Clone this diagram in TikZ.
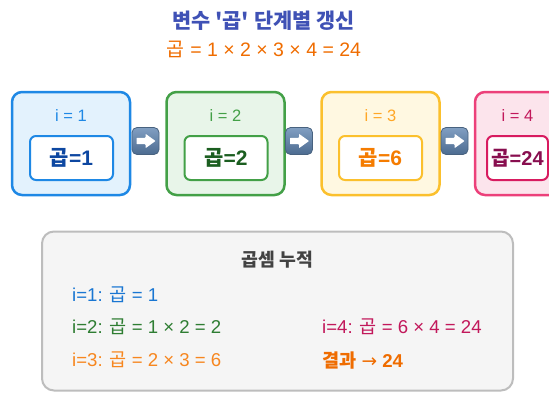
\documentclass[tikz,border=0pt]{standalone}
\usepackage{fontspec}
\setmainfont{Liberation Sans}
\newfontfamily\krfont{Noto Sans CJK KR}
\newfontfamily\arrowfont{DejaVu Sans}
\newcommand\kr[1]{{\krfont #1}}
\definecolor{ttl}{HTML}{3F51B5}
\definecolor{sub}{HTML}{EF6C00}
\definecolor{bA}{HTML}{1E88E5}\definecolor{fA}{HTML}{E3F2FD}\definecolor{tA}{HTML}{0D47A1}
\definecolor{bB}{HTML}{43A047}\definecolor{fB}{HTML}{E8F5E9}\definecolor{tB}{HTML}{1B5E20}
\definecolor{bC}{HTML}{FBC02D}\definecolor{fC}{HTML}{FFF8E1}\definecolor{tC}{HTML}{F57C00}\definecolor{lC}{HTML}{FFA726}
\definecolor{bD}{HTML}{EC407A}\definecolor{fD}{HTML}{FCE4EC}\definecolor{tD}{HTML}{880E4F}\definecolor{iD}{HTML}{D81B60}
\definecolor{lD}{HTML}{C2185B}
\definecolor{pf}{HTML}{F5F5F5}\definecolor{pb}{HTML}{BDBDBD}\definecolor{ph}{HTML}{424242}
\definecolor{l1}{HTML}{1976D2}\definecolor{l2}{HTML}{2E7D32}\definecolor{l3}{HTML}{F7861E}
\definecolor{ict}{HTML}{819FC2}\definecolor{icbot}{HTML}{4C6B90}\definecolor{icb}{HTML}{48627F}
\tikzset{
  outerbox/.style={draw, line width=2.5pt, rounded corners=10pt, minimum width=118pt, minimum height=103pt, inner sep=0pt},
  innerbox/.style={draw, fill=white, line width=2pt, rounded corners=6pt, minimum width=83pt, minimum height=44pt, inner sep=0pt},
  lab/.style={anchor=base, font=\fontsize{16.5}{19}\selectfont},
  val/.style={anchor=base, font=\fontsize{21}{25}\selectfont\bfseries},
  icon/.style={draw=icb, line width=0.8pt, rounded corners=5pt, top color=ict, bottom color=icbot, minimum size=27pt, inner sep=0pt},
  txtline/.style={anchor=base west, inner sep=0pt, font=\fontsize{18.6}{22}\selectfont},
}
\begin{document}
\begin{tikzpicture}[x=1pt,y=-1pt]
\useasboundingbox (0,0) rectangle (549,392);
% titles
\node[anchor=base, text=ttl, font=\fontsize{20.8}{25}\selectfont\bfseries] (title) at (263.5,28) {\kr{변수 '곱' 단계별 갱신}};
\node[anchor=base, text=sub, font=\fontsize{19.5}{23}\selectfont] (subt) at (264,56) {\kr{곱} = 1 × 2 × 3 × 4 = 24};
% step boxes
\node[outerbox, draw=bA, fill=fA] (b1) at (71,143.5) {};
\node[outerbox, draw=bB, fill=fB] (b2) at (225.5,143.5) {};
\node[outerbox, draw=bC, fill=fC] (b3) at (380.5,143.5) {};
\node[outerbox, draw=bD, fill=fD] (b4) at (534,143.5) {};
\node[lab, text=bA] (i1) at (71,121) {i = 1};
\node[lab, text=bB] (i2) at (225.5,121) {i = 2};
\node[lab, text=lC] (i3) at (380.5,121) {i = 3};
\node[lab, text=lD] (i4) at (517.5,121) {i = 4};
\node[innerbox, draw=bA] (v1) at (71.5,158) {};
\node[innerbox, draw=bB] (v2) at (226,158) {};
\node[innerbox, draw=bC] (v3) at (380.5,158) {};
\node[innerbox, draw=iD, minimum width=61pt] (v4) at (517.5,158) {};
\node[val, text=tA] (t1) at (71.5,165) {\kr{곱}=1};
\node[val, text=tB] (t2) at (226,165) {\kr{곱}=2};
\node[val, text=tC] (t3) at (380.5,165) {\kr{곱}=6};
\node[val, text=tD, font=\fontsize{20}{24}\selectfont\bfseries] (t4) at (517.5,165) {\kr{곱}=24};
% arrow icons
\foreach \n/\x in {a1/145.5, a2/299, a3/454.5}{
  \node[icon] (\n) at (\x,141) {};
  \fill[white, rounded corners=0.6pt, shift={(\n.center)}] (-9,-3.2) -- (0,-3.2) -- (0,-7.2) -- (10,0) -- (0,7.2) -- (0,3.2) -- (-9,3.2) -- cycle;
}
% accumulation panel
\node[draw=pb, fill=pf, line width=2pt, rounded corners=12pt, minimum width=471pt, minimum height=159pt, inner sep=0pt] (panel) at (277.5,311) {};
\node[anchor=base, text=ph, font=\fontsize{18.3}{22}\selectfont\bfseries] (ph) at (277.5,266) {\kr{곱셈 누적}};
\node[txtline, text=l1] (r1) at (72,301) {i=1: \kr{곱} = 1};
\node[txtline, text=l2] (r2) at (72,333) {i=2: \kr{곱} = 1 × 2 = 2};
\node[txtline, text=l3] (r3) at (72,366) {i=3: \kr{곱} = 2 × 3 = 6};
\node[txtline, text=lD] (r4) at (322,333) {i=4: \kr{곱} = 6 × 4 = 24};
\node[txtline, text=sub, font=\fontsize{18.6}{22}\selectfont\bfseries] (r5) at (322,367) {\kr{결과} {\arrowfont\mdseries →} 24};
\end{tikzpicture}
\end{document}
